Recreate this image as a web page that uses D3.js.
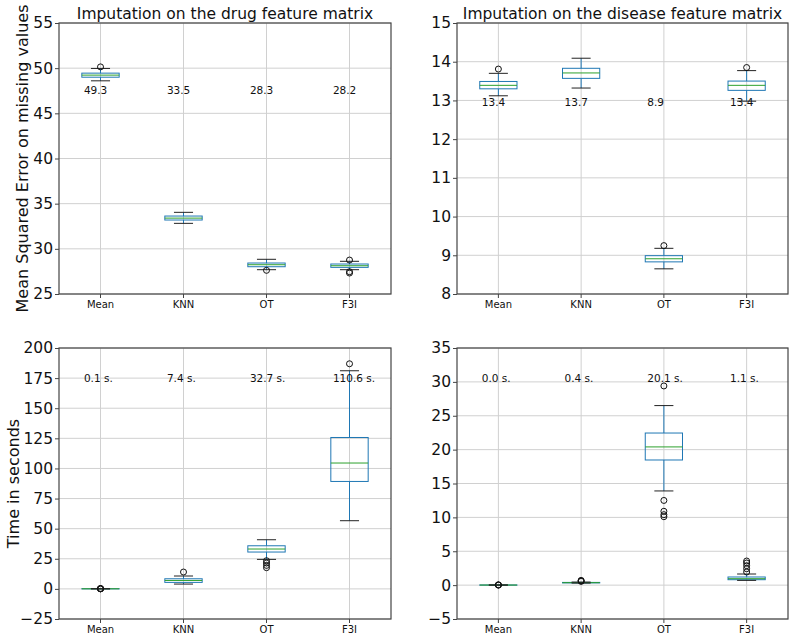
<!DOCTYPE html>
<html>
<head>
<meta charset="utf-8">
<script src="https://cdn.jsdelivr.net/npm/d3@7"></script>
<style>
  body { margin: 0; background: #fff; }
  svg { font-family: "DejaVu Sans", sans-serif; }
</style>
</head>
<body>
<script>
// categories
const methods = ['Mean', 'KNN', 'OT', 'F3I'];

// box stats: [whisker low, q1, median, q3, whisker high]
const drugMseBoxes = [
  [48.6, 49.0, 49.23, 49.45, 49.97],
  [32.82, 33.19, 33.4, 33.63, 34.04],
  [27.69, 28.02, 28.24, 28.43, 28.84],
  [27.69, 27.95, 28.13, 28.32, 28.62]
];
const drugMseFliers = [[50.14], [], [27.62], [28.76, 27.47, 27.32]];
const drugMseMeans = [49.3, 33.5, 28.3, 28.2];

const disMseBoxes = [
  [13.12, 13.30, 13.39, 13.49, 13.70],
  [13.32, 13.57, 13.71, 13.83, 14.09],
  [8.65, 8.83, 8.91, 8.99, 9.18],
  [12.98, 13.26, 13.39, 13.50, 13.77]
];
const disMseFliers = [[13.81], [], [9.25], [13.85]];
const disMseMeans = [13.4, 13.7, 8.9, 13.4];

const drugTimeBoxes = [
  [0.0, 0.05, 0.08, 0.1, 0.15],
  [4.0, 5.4, 7.0, 8.4, 10.7],
  [24.5, 30.6, 33.1, 35.8, 40.8],
  [56.6, 89.2, 104.5, 125.7, 181.1]
];
const drugTimeFliers = [[0.0, 0.1, 0.2, 0.3], [14.0], [23.4, 21.5, 19.5, 17.6], [186.9]];
const drugTimeMeans = [0.1, 7.4, 32.7, 110.6];

const disTimeBoxes = [
  [0.0, 0.0, 0.01, 0.02, 0.03],
  [0.3, 0.33, 0.36, 0.4, 0.45],
  [13.9, 18.47, 20.4, 22.45, 26.5],
  [0.7, 0.8, 0.95, 1.2, 1.64]
];
const disTimeFliers = [[0.0, 0.02, 0.05], [0.7, 0.62, 0.55], [29.4, 12.5, 10.9, 10.4, 10.1], [1.94, 2.42, 2.87, 3.27, 3.56]];
const disTimeMeans = [0.0, 0.4, 20.1, 1.1];

// y ticks
const drugMseTicks = [25, 30, 35, 40, 45, 50, 55];
const disMseTicks = [8, 9, 10, 11, 12, 13, 14, 15];
const drugTimeTicks = [-25, 0, 25, 50, 75, 100, 125, 150, 175, 200];
const disTimeTicks = [-5, 0, 5, 10, 15, 20, 25, 30, 35];

const W = 795, H = 640;
const svg = d3.select('body').append('svg')
  .attr('width', W).attr('height', H);

const panels = [
  { x0: 59, x1: 391, y0: 23, y1: 294, ticks: drugMseTicks, boxes: drugMseBoxes, fliers: drugMseFliers,
    means: drugMseMeans, fmt: d => d.toFixed(1), labelY: 47.5,
    title: 'Imputation on the drug feature matrix', ylabel: 'Mean Squared Error on missing values', ylabelX: 22 },
  { x0: 457, x1: 788, y0: 23, y1: 294, ticks: disMseTicks, boxes: disMseBoxes, fliers: disMseFliers,
    means: disMseMeans, fmt: d => d.toFixed(1), labelY: 12.96,
    title: 'Imputation on the disease feature matrix' },
  { x0: 59, x1: 391, y0: 348, y1: 619, ticks: drugTimeTicks, boxes: drugTimeBoxes, fliers: drugTimeFliers,
    means: drugTimeMeans, fmt: d => d.toFixed(1) + ' s.', labelY: 174.5,
    ylabel: 'Time in seconds', ylabelX: 13 },
  { x0: 457, x1: 788, y0: 348, y1: 619, ticks: disTimeTicks, boxes: disTimeBoxes, fliers: disTimeFliers,
    means: disTimeMeans, fmt: d => d.toFixed(1) + ' s.', labelY: 30.5 }
];

panels.forEach(p => {
  const x = d3.scaleBand().domain(methods).range([p.x0, p.x1]).padding(0);
  const y = d3.scaleLinear().domain(d3.extent(p.ticks)).range([p.y1, p.y0]);
  const cx = m => x(m) + x.bandwidth() / 2;
  const bw = x.bandwidth() * 0.45;
  const cw = x.bandwidth() * 0.23;

  const g = svg.append('g');

  // grid
  g.selectAll('.hgrid').data(p.ticks).join('line')
    .attr('x1', p.x0).attr('x2', p.x1)
    .attr('y1', d => y(d)).attr('y2', d => y(d))
    .attr('stroke', '#d0d0d0').attr('stroke-width', 1);
  g.selectAll('.vgrid').data(methods).join('line')
    .attr('x1', cx).attr('x2', cx)
    .attr('y1', p.y0).attr('y2', p.y1)
    .attr('stroke', '#d0d0d0').attr('stroke-width', 1);

  // axes
  const ya = g.append('g').attr('transform', `translate(${p.x0},0)`)
    .call(d3.axisLeft(y).tickValues(p.ticks).tickSize(4).tickPadding(2).tickFormat(d3.format('d')));
  ya.select('.domain').remove();
  ya.selectAll('text').attr('font-size', 15.5).attr('fill', '#111').attr('font-family', 'DejaVu Sans');
  ya.selectAll('line').attr('stroke', '#444');

  const xa = g.append('g').attr('transform', `translate(0,${p.y1})`)
    .call(d3.axisBottom(x).tickSize(4).tickPadding(3));
  xa.select('.domain').remove();
  xa.selectAll('text').attr('font-size', 10).attr('fill', '#111').attr('font-family', 'DejaVu Sans');
  xa.selectAll('line').attr('stroke', '#444');

  // boxes
  const bx = g.selectAll('.box').data(methods).join('g');
  bx.each(function(m, i) {
    const s = p.boxes[i];
    const gg = d3.select(this);
    const c = cx(m);
    gg.append('line').attr('x1', c).attr('x2', c).attr('y1', y(s[3])).attr('y2', y(s[4]))
      .attr('stroke', '#1f77b4');
    gg.append('line').attr('x1', c).attr('x2', c).attr('y1', y(s[1])).attr('y2', y(s[0]))
      .attr('stroke', '#1f77b4');
    gg.append('rect').attr('x', c - bw / 2).attr('width', bw)
      .attr('y', y(s[3])).attr('height', Math.max(0, y(s[1]) - y(s[3])))
      .attr('fill', 'none').attr('stroke', '#1f77b4');
    gg.append('line').attr('x1', c - bw / 2).attr('x2', c + bw / 2).attr('y1', y(s[2])).attr('y2', y(s[2]))
      .attr('stroke', '#2ca02c');
    [s[0], s[4]].forEach(v => {
      gg.append('line').attr('x1', c - cw / 2).attr('x2', c + cw / 2).attr('y1', y(v)).attr('y2', y(v))
        .attr('stroke', '#222');
    });
    gg.selectAll('circle').data(p.fliers[i]).join('circle')
      .attr('cx', c).attr('cy', d => y(d)).attr('r', 3)
      .attr('fill', 'none').attr('stroke', '#111').attr('stroke-width', 1);
    gg.append('text').attr('x', c - x.bandwidth() * 0.2).attr('y', y(p.labelY))
      .attr('dy', '0.35em').attr('font-size', 10.5).attr('fill', '#111')
      .text(p.fmt(p.means[i]));
  });

  // frame
  g.append('rect').attr('x', p.x0).attr('y', p.y0)
    .attr('width', p.x1 - p.x0).attr('height', p.y1 - p.y0)
    .attr('fill', 'none').attr('stroke', '#444').attr('stroke-width', 1.2);

  if (p.title) {
    g.append('text').attr('x', (p.x0 + p.x1) / 2).attr('y', 19)
      .attr('text-anchor', 'middle').attr('font-size', 15.5).attr('fill', '#111')
      .text(p.title);
  }
  if (p.ylabel) {
    g.append('text')
      .attr('transform', `translate(${p.ylabelX},${(p.y0 + p.y1) / 2}) rotate(-90)`)
      .attr('text-anchor', 'middle').attr('dy', '0.35em')
      .attr('font-size', 16).attr('fill', '#111')
      .text(p.ylabel);
  }
});
</script>
</body>
</html>
